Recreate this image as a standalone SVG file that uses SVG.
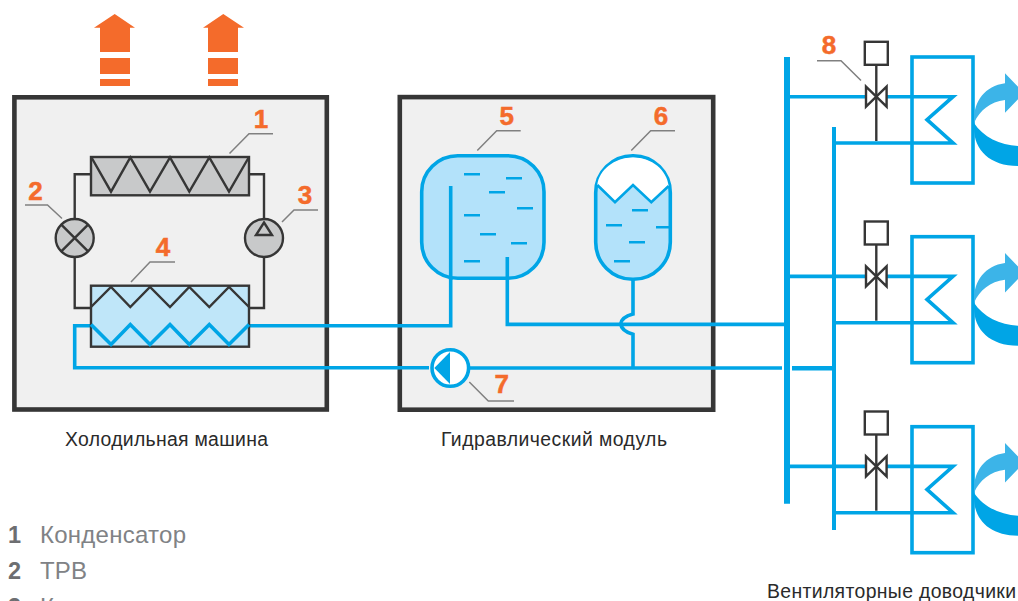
<svg xmlns="http://www.w3.org/2000/svg" width="1018" height="601" viewBox="0 0 1018 601">
<style>
text{font-family:"Liberation Sans",Arial,sans-serif}
.box{fill:#f0f0f0;stroke:#363636;stroke-width:4.6}
.k{fill:none;stroke:#363636;stroke-width:2.4}
.ks{stroke:#363636;stroke-width:2.4}
.gf{fill:#c8c9ca}
.b{fill:none;stroke:#00a5e6;stroke-width:3.6}
.d{stroke:#00a5e6;stroke-width:2.6;fill:none}
.l{fill:none;stroke:#808080;stroke-width:1.5}
.n{font-weight:bold;font-size:26px;fill:#f46b2b;stroke:#f46b2b;stroke-width:.5;text-anchor:middle}
.o{fill:#f46b2b}
.c{font-size:19.4px;fill:#2a2a2a}
.ln{font-weight:bold;font-size:23.5px;fill:#6d6e71}
.lt{font-size:24px;fill:#808285}
.fl{fill:#3cb4e8}
.fd{fill:#00a5e6}
</style>
<defs>
<g id="fan">
<rect x="912" y="57" width="61" height="126" class="b"/>
<path class="b" d="M787 96.7H953L927 119.7L953 143H834"/>
<path class="ks" fill="none" stroke-width="3" d="M876.3 64V141"/>
<rect x="864.8" y="41.8" width="23" height="23" fill="#fff" stroke="#363636" stroke-width="2.4"/>
<path fill="#fff" stroke="#363636" stroke-width="2.4" d="M866 86.7L886.6 106.7V86.7L866 106.7Z"/>
<path class="fl" d="M974 120C974 101 985 86 1005 83.3V73.3L1024 93L1005 112.7V100C990 102 980 110 974 123Z"/>
<path class="fd" d="M974 123C983 137 1000 145 1018 146V166C990 166 974 150 974 128Z"/>
</g>
</defs>
<g id="arrows" class="o">
<path d="M114.7 14L135 27.7H130V52H100V27.7H94Z"/><rect x="100" y="58" width="30" height="16"/><rect x="100" y="79" width="30" height="7"/>
<path d="M223.3 14L244 27.7H238V52H208V27.7H203Z"/><rect x="208" y="58" width="30" height="16"/><rect x="208" y="79" width="30" height="7"/>
</g>
<g id="chiller"><rect class="box" x="14.4" y="97.3" width="312.4" height="312.2"/></g>
<g id="hydro"><rect class="box" x="399.8" y="97.1" width="313.4" height="312.6"/></g>
<g id="connectors">
<path class="k" d="M91 174.3H74.7V218M74.7 258V308H91M249 174.3H264V218M264 258V308H249"/>
<path class="b" d="M91 325.7H74.7V367.8H429"/>
<path class="b" d="M249 325.7H450.7V186"/>
<path class="b" d="M507.3 257V324.4H784"/>
<path class="b" d="M469 368H782"/>
<path class="b" d="M633 280V314Q621.5 317 620.7 324Q621.5 331 633 334.3V368"/>
<path d="M792 368.3H834" stroke="#00a5e6" stroke-width="4.6"/>
<path d="M787 57V503.7" stroke="#00a5e6" stroke-width="6"/>
<path d="M834 127V530" stroke="#00a5e6" stroke-width="4"/>
</g>
<g id="n1">
<rect x="91" y="157" width="158" height="38.3" class="gf k"/>
<path class="k" d="M91.5 157.5L111 191.7L130.3 157.5L150 191.7L170 157.5L189.3 191.7L209.3 157.5L229 191.7L248.7 157.5"/>
<path class="l" d="M229.5 153.5L249 133.7H273"/>
<text class="n" x="261" y="128">1</text>
</g>
<g id="n2">
<circle cx="74.7" cy="238" r="19" class="gf" stroke="#363636" stroke-width="2.4"/>
<path class="ks" d="M61.3 224.6L88.1 251.4M88.1 224.6L61.3 251.4"/>
<path class="l" d="M62 218.5L47.5 205H25"/>
<text class="n" x="35.5" y="200">2</text>
</g>
<g id="n3">
<circle cx="264" cy="238" r="19" class="gf" stroke="#363636" stroke-width="2.4"/>
<path class="k" d="M264 222.5L272 235H256Z"/>
<path class="l" d="M282 222L294 210H318"/>
<text class="n" x="305" y="204">3</text>
</g>
<g id="n4">
<rect x="91" y="285.7" width="158" height="61" fill="#bfe6f9" stroke="#363636" stroke-width="2.4"/>
<path class="k" d="M91 307L111 287L130.3 307L150 287L170 307L189.3 287L209.3 307L229 287L249 307"/>
<path class="b" d="M91 324.5L111 344.5L130.3 324.5L150 344.5L170 324.5L189.3 344.5L209.3 324.5L229 344.5L249 324.5"/>
<path class="l" d="M131 282L150 262H175"/>
<text class="n" x="163" y="256">4</text>
</g>
<g id="n5">
<rect x="421.7" y="155.7" width="122.3" height="122.6" rx="36" fill="#b3e2fa" stroke="#00a5e6" stroke-width="3.6"/>
<path class="d" d="M464 174.3H480M506 178.3H522M489 192.3H505M517 208.3H533M464 215.3H480M480 234.3H496M511 243.3H527M464 261.3H480"/>
<path class="b" d="M450.7 186V280M507.3 257V280"/>
<path class="l" d="M477.3 150.5L496.7 130.7H520.7"/>
<text class="n" x="506.7" y="125">5</text>
</g>
<g id="n6">
<rect x="595.7" y="155.7" width="74.6" height="123.6" rx="37" fill="#b3e2fa" stroke="#00a5e6" stroke-width="3.6"/>
<path fill="#fff" d="M597.3 185L615 202.3L633 185L651.3 202.3L668.7 186C667 170 652 157.4 633 157.4S599 170 597.3 185Z"/>
<path class="d" d="M597.3 185L615 202.3L633 185L651.3 202.3L668.7 186"/>
<path class="d" d="M632 210.3H648M606 225.3H622M656 227.3H672M629 242.3H645M614 261.3H630"/>
<path class="l" d="M631.3 150.5L650.7 130.7H675"/>
<text class="n" x="661" y="125">6</text>
</g>
<g id="n7">
<circle cx="450.3" cy="368" r="18.3" fill="#fff" stroke="#00a5e6" stroke-width="3.6"/>
<path class="fd" d="M434.3 368L450 352V384Z"/>
<path class="l" d="M469.3 382L488.3 401H514"/>
<text class="n" x="501.7" y="393">7</text>
</g>
<use id="fan1" href="#fan"/>
<use id="fan2" href="#fan" y="179.7"/>
<use id="fan3" href="#fan" y="369.7"/>
<g id="n8">
<path class="l" d="M817 60.7H841L861 80.5"/>
<text class="n" x="829" y="54">8</text>
</g>
<g id="captions">
<text class="c" x="65" y="446" textLength="203" lengthAdjust="spacing">Холодильная машина</text>
<text class="c" x="441" y="446" textLength="226" lengthAdjust="spacing">Гидравлический модуль</text>
<text class="c" x="767" y="598" textLength="249" lengthAdjust="spacing">Вентиляторные доводчики</text>
</g>
<g id="legend">
<text class="ln" x="8" y="543">1</text><text class="lt" x="40" y="543" textLength="146" lengthAdjust="spacing">Конденсатор</text>
<text class="ln" x="8" y="579">2</text><text class="lt" x="40" y="579" textLength="47" lengthAdjust="spacing">ТРВ</text>
<text class="ln" x="8" y="615">3</text><text class="lt" x="40" y="615" textLength="146" lengthAdjust="spacing">Компрессор</text>
</g>
</svg>
